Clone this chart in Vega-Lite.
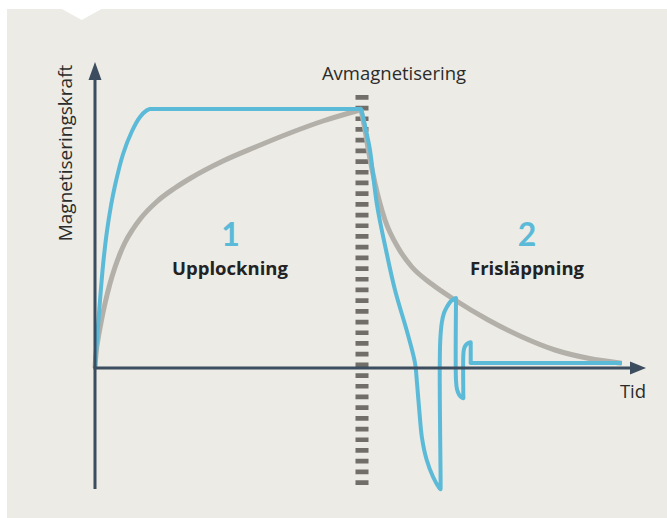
{
  "$schema": "https://vega.github.io/schema/vega-lite/v6.json",
  "width": 660,
  "height": 509,
  "padding": {"left": 7, "top": 9, "right": 0, "bottom": 0},
  "autosize": {"type": "none"},
  "background": "#ffffff",
  "config": {"view": {"fill": "#ecebe5", "stroke": null}},
  "datasets": {
    "grey": [
      {"seg": "a", "t": 0, "f": 0}, {"seg": "a", "t": 0.1, "f": 3}, {"seg": "a", "t": 0.3, "f": 7.5}, {"seg": "a", "t": 0.6, "f": 11.5},
      {"seg": "a", "t": 1, "f": 16}, {"seg": "a", "t": 1.5, "f": 21.2}, {"seg": "a", "t": 2, "f": 25.8}, {"seg": "a", "t": 3, "f": 33.8},
      {"seg": "a", "t": 4, "f": 40.3}, {"seg": "a", "t": 5, "f": 45.7}, {"seg": "a", "t": 6, "f": 50.2}, {"seg": "a", "t": 7.5, "f": 55.3},
      {"seg": "a", "t": 9, "f": 59.5},
      {"seg": "a", "t": 12.34, "f": 66.5}, {"seg": "a", "t": 16, "f": 72}, {"seg": "a", "t": 19, "f": 75.8}, {"seg": "a", "t": 25.6, "f": 82.8},
      {"seg": "a", "t": 32.34, "f": 88.6}, {"seg": "a", "t": 39, "f": 94}, {"seg": "a", "t": 45.6, "f": 98.8}, {"seg": "a", "t": 53.2, "f": 103.3},
      {"seg": "b", "t": 53.2, "f": 103.3}, {"seg": "b", "t": 54, "f": 95.2}, {"seg": "b", "t": 54.66, "f": 87.2}, {"seg": "b", "t": 56, "f": 73.9},
      {"seg": "b", "t": 58, "f": 59.2}, {"seg": "b", "t": 60.66, "f": 48}, {"seg": "b", "t": 63.34, "f": 40.5}, {"seg": "b", "t": 67.34, "f": 33.6},
      {"seg": "b", "t": 72, "f": 27.2}, {"seg": "b", "t": 78.66, "f": 19.2}, {"seg": "b", "t": 85.34, "f": 12.5}, {"seg": "b", "t": 92, "f": 7.2},
      {"seg": "b", "t": 98.66, "f": 3.9}, {"seg": "b", "t": 105.34, "f": 1.9}
    ],
    "blue": [
      {"i": 0, "t": 0, "f": 0}, {"i": 1, "t": 0.2, "f": 6}, {"i": 2, "t": 0.5, "f": 14}, {"i": 3, "t": 1, "f": 27},
      {"i": 4, "t": 1.6, "f": 41}, {"i": 5, "t": 2.34, "f": 54}, {"i": 6, "t": 3.2, "f": 65}, {"i": 7, "t": 4, "f": 73},
      {"i": 8, "t": 5.6, "f": 85.5}, {"i": 9, "t": 7.34, "f": 94.5}, {"i": 10, "t": 9, "f": 100.4}, {"i": 11, "t": 10.3, "f": 103},
      {"i": 12, "t": 11, "f": 103.6}, {"i": 13, "t": 12, "f": 103.6}, {"i": 14, "t": 52.8, "f": 103.6}, {"i": 15, "t": 53.2, "f": 103.6},
      {"i": 16, "t": 53.35, "f": 102.6}, {"i": 17, "t": 54.4, "f": 93.2}, {"i": 18, "t": 55, "f": 87.2}, {"i": 19, "t": 56.4, "f": 65.2},
      {"i": 20, "t": 58.2, "f": 47.2}, {"i": 21, "t": 60, "f": 31.2}, {"i": 22, "t": 62.6, "f": 13.2}, {"i": 23, "t": 64, "f": 2},
      {"i": 24, "t": 64.4, "f": -6}, {"i": 25, "t": 64.9, "f": -18}, {"i": 26, "t": 65.4, "f": -28}, {"i": 27, "t": 66.3, "f": -36.5},
      {"i": 28, "t": 67.6, "f": -43.5}, {"i": 29, "t": 68.8, "f": -47.8}, {"i": 30, "t": 69.1, "f": -48.5}, {"i": 31, "t": 69.12, "f": -47.5},
      {"i": 32, "t": 69.1, "f": -40}, {"i": 33, "t": 69, "f": -20.8}, {"i": 34, "t": 68.95, "f": 0}, {"i": 35, "t": 69.05, "f": 11},
      {"i": 36, "t": 69.35, "f": 18}, {"i": 37, "t": 69.8, "f": 22}, {"i": 38, "t": 70.4, "f": 24.5}, {"i": 39, "t": 71.2, "f": 26.8},
      {"i": 40, "t": 72, "f": 27.8}, {"i": 41, "t": 72.2, "f": 28}, {"i": 42, "t": 72.2, "f": 27}, {"i": 43, "t": 72.2, "f": -5},
      {"i": 44, "t": 72.4, "f": -8.5}, {"i": 45, "t": 72.8, "f": -10.6}, {"i": 46, "t": 73.2, "f": -11.6}, {"i": 47, "t": 73.66, "f": -12.1},
      {"i": 48, "t": 73.66, "f": -11}, {"i": 49, "t": 73.66, "f": 5}, {"i": 50, "t": 73.8, "f": 7.6}, {"i": 51, "t": 74.1, "f": 9},
      {"i": 52, "t": 74.6, "f": 9.9}, {"i": 53, "t": 75.1, "f": 10.3}, {"i": 54, "t": 75.14, "f": 10.3}, {"i": 55, "t": 75.14, "f": 9.3},
      {"i": 56, "t": 75.14, "f": 2.4}, {"i": 57, "t": 75.14, "f": 2}, {"i": 58, "t": 75.6, "f": 2}, {"i": 59, "t": 105.4, "f": 2}
    ],
    "axes": [
      {"t": 0, "f": -48.4, "t2": 0, "f2": 115.5},
      {"t": -0.3, "f": 0, "t2": 107.2, "f2": 0}
    ],
    "demag": [{"t": 53.4, "f": 109.2, "f2": -48}],
    "uparrow": [{"t": 0, "f": 118.8}],
    "rightarrow": [{"t": 108.6, "f": 0}],
    "notch": [{"t": -2.66, "f": 141.4}],
    "labels": [
      {"t": 59.8, "f": 115.2, "label": "Avmagnetisering"},
      {"t": 107.6, "f": -12, "label": "Tid"}
    ],
    "ylabel": [{"t": -5.8, "f": 86, "label": "Magnetiseringskraft"}],
    "numbers": [
      {"t": 27.1, "f": 48.8, "label": "1"},
      {"t": 86.4, "f": 48.8, "label": "2"}
    ],
    "phases": [
      {"t": 27, "f": 37.2, "label": "Upplockning"},
      {"t": 86.4, "f": 37.2, "label": "Frisläppning"}
    ]
  },
  "encoding": {
    "x": {"field": "t", "type": "quantitative", "scale": {"domain": [-17.6, 114.4], "nice": false, "zero": false}, "axis": null},
    "y": {"field": "f", "type": "quantitative", "scale": {"domain": [-60, 143.6], "nice": false, "zero": false}, "axis": null}
  },
  "layer": [
    {
      "data": {"name": "notch"},
      "mark": {"type": "point", "filled": true, "color": "#ffffff", "opacity": 1, "size": 2809, "shape": "M-1,-0.35L1,-0.35L0,0.208Z", "strokeWidth": 0}
    },
    {
      "data": {"name": "demag"},
      "mark": {"type": "rule", "color": "#716d68", "strokeWidth": 13, "strokeDash": [4.7, 6]},
      "encoding": {"y2": {"field": "f2"}}
    },
    {
      "data": {"name": "grey"},
      "mark": {"type": "line", "color": "#b2b0a9", "strokeWidth": 5, "strokeJoin": "round", "interpolate": "monotone"},
      "encoding": {"detail": {"field": "seg", "type": "nominal"}}
    },
    {
      "data": {"name": "blue"},
      "mark": {"type": "line", "color": "#5bbad8", "strokeWidth": 4, "strokeJoin": "round", "interpolate": "catmull-rom"},
      "encoding": {"order": {"field": "i", "type": "quantitative"}}
    },
    {
      "data": {"name": "axes"},
      "mark": {"type": "rule", "color": "#3b4d5e", "strokeWidth": 3},
      "encoding": {"x2": {"field": "t2"}, "y2": {"field": "f2"}}
    },
    {
      "data": {"name": "uparrow"},
      "mark": {"type": "point", "filled": true, "color": "#3b4d5e", "opacity": 1, "size": 324, "shape": "M0,-1L0.72,1L-0.72,1Z", "strokeWidth": 0}
    },
    {
      "data": {"name": "rightarrow"},
      "mark": {"type": "point", "filled": true, "color": "#3b4d5e", "opacity": 1, "size": 256, "shape": "M1,0L-1,0.82L-1,-0.82Z", "strokeWidth": 0}
    },
    {
      "data": {"name": "labels"},
      "mark": {"type": "text", "font": "Open Sans", "fontSize": 18.5, "color": "#2b2b2b", "align": "center", "baseline": "alphabetic"},
      "encoding": {"text": {"field": "label"}}
    },
    {
      "data": {"name": "ylabel"},
      "mark": {"type": "text", "font": "Open Sans", "fontSize": 19, "color": "#2b2b2b", "align": "center", "baseline": "middle", "angle": 270},
      "encoding": {"text": {"field": "label"}}
    },
    {
      "data": {"name": "numbers"},
      "mark": {"type": "text", "font": "Lato", "fontSize": 32, "fontWeight": "bold", "color": "#5bbad8", "align": "center", "baseline": "alphabetic"},
      "encoding": {"text": {"field": "label"}}
    },
    {
      "data": {"name": "phases"},
      "mark": {"type": "text", "font": "Open Sans", "fontSize": 18.5, "fontWeight": "bold", "color": "#222222", "align": "center", "baseline": "alphabetic"},
      "encoding": {"text": {"field": "label"}}
    }
  ]
}
